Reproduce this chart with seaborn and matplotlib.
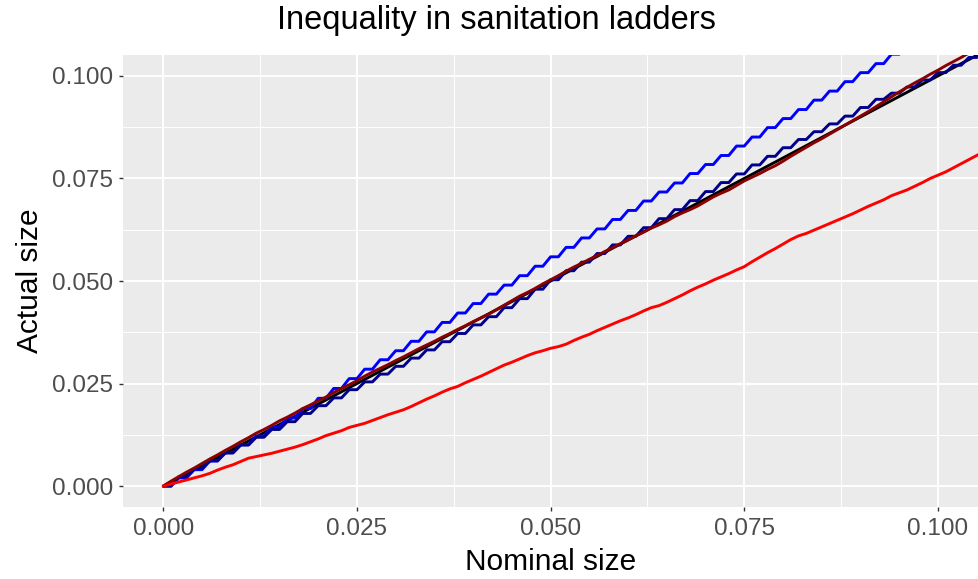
import matplotlib
matplotlib.use("Agg")
import matplotlib.pyplot as plt
import seaborn as sns
import pandas as pd
import numpy as np

# ---- data (values in thousandths) ----
nominal = [
    0, 1, 2, 3, 4, 5, 6, 7, 8, 9, 10, 11, 12, 13, 14, 15, 16, 17, 18, 19,
    20, 21, 22, 23, 24, 25, 26, 27, 28, 29, 30, 31, 32, 33, 34, 35, 36, 37, 38, 39,
    40, 41, 42, 43, 44, 45, 46, 47, 48, 49, 50, 51, 52, 53, 54, 55, 56, 57, 58, 59,
    60, 61, 62, 63, 64, 65, 66, 67, 68, 69, 70, 71, 72, 73, 74, 75, 76, 77, 78, 79,
    80, 81, 82, 83, 84, 85, 86, 87, 88, 89, 90, 91, 92, 93, 94, 95, 96, 97, 98, 99,
    100, 101, 102, 103, 104, 105, 106]

reference = list(nominal)

blue = [
    0, 0, 2.0, 2.0, 4.0, 4.0, 6.1, 6.1, 8.1, 8.1, 10.1, 10.1, 12.2, 12.2, 14.4, 14.4,
    16.6, 16.6, 18.9, 18.9, 21.4, 21.4, 23.8, 23.8, 26.2, 26.2, 28.5, 28.5, 30.8, 30.8,
    33.0, 33.0, 35.3, 35.3, 37.6, 37.6, 39.9, 39.9, 42.2, 42.2, 44.5, 44.5, 46.8, 46.8,
    49.0, 49.0, 51.3, 51.3, 53.6, 53.6, 55.9, 55.9, 58.2, 58.2, 60.5, 60.5, 62.7, 62.7,
    65.0, 65.0, 67.2, 67.2, 69.5, 69.5, 71.7, 71.7, 73.9, 73.9, 76.2, 76.2, 78.4, 78.4,
    80.6, 80.6, 82.9, 82.9, 85.1, 85.1, 87.4, 87.4, 89.6, 89.6, 91.8, 91.8, 94.1, 94.1,
    96.3, 96.3, 98.6, 98.6, 100.8, 100.8, 103.0, 103.0, 105.3, 105.3, 107.5, 107.5,
    109.8, 109.8, 112.0, 112.0, 114.2, 114.2, 116.5, 116.5, 118.7]

navy = [
    0, 0, 2.3, 2.3, 4.3, 4.3, 6.2, 6.2, 8.1, 8.1, 10.0, 10.0, 11.9, 11.9, 13.8, 13.8,
    15.7, 15.7, 17.7, 17.7, 19.6, 19.6, 21.5, 21.5, 23.5, 23.5, 25.4, 25.4, 27.3, 27.3,
    29.2, 29.2, 31.2, 31.2, 33.2, 33.2, 35.2, 35.2, 37.2, 37.2, 39.3, 39.3, 41.3, 41.3,
    43.5, 43.5, 45.7, 45.7, 48.0, 48.0, 50.3, 50.3, 52.5, 52.5, 54.6, 54.6, 56.7, 56.7,
    58.8, 58.8, 60.9, 60.9, 63.0, 63.0, 65.2, 65.2, 67.4, 67.4, 69.6, 69.6, 71.8, 71.8,
    74.0, 74.0, 76.1, 76.1, 78.3, 78.3, 80.4, 80.4, 82.5, 82.5, 84.5, 84.5, 86.4, 86.4,
    88.3, 88.3, 90.2, 90.2, 92.3, 92.3, 94.3, 94.3, 95.8, 95.8, 97.3, 97.3, 99.0, 99.0,
    100.8, 100.8, 102.6, 102.6, 104.5, 104.5, 106.5]

darkred = [
    0.0, 1.2, 2.3, 3.4, 4.4, 5.5, 6.6, 7.6, 8.7, 9.7, 10.8, 11.8, 12.9, 13.8, 14.8, 15.9,
    16.8, 17.8, 18.9, 19.8, 20.8, 21.7, 22.8, 23.8, 24.7, 25.7, 26.8, 27.8, 28.7, 29.6,
    30.6, 31.5, 32.5, 33.5, 34.4, 35.3, 36.3, 37.2, 38.2, 39.1, 40.1, 41.0, 41.9, 43.0,
    44.1, 45.2, 46.3, 47.2, 48.2, 49.3, 50.3, 51.3, 52.4, 53.4, 54.3, 55.3, 56.2, 57.2,
    58.1, 59.1, 60.0, 61.0, 61.9, 62.9, 63.7, 64.6, 65.7, 66.6, 67.4, 68.3, 69.4, 70.5,
    71.4, 72.2, 73.3, 74.4, 75.3, 76.2, 77.2, 78.1, 79.2, 80.4, 81.5, 82.6, 83.7, 84.7,
    85.8, 86.9, 88.0, 89.1, 90.2, 91.3, 92.5, 93.7, 94.9, 96.1, 97.2, 98.3, 99.3, 100.4,
    101.4, 102.5, 103.5, 104.5, 105.6, 106.6, 107.6]

red = [
    0.0, 0.5, 1.0, 1.5, 2.0, 2.5, 3.1, 3.9, 4.6, 5.2, 6.0, 6.8, 7.2, 7.6, 8.0, 8.5,
    9.0, 9.5, 10.1, 10.8, 11.5, 12.3, 12.9, 13.5, 14.3, 14.8, 15.3, 16.0, 16.7, 17.4,
    18.0, 18.6, 19.4, 20.3, 21.2, 22.0, 22.9, 23.7, 24.3, 25.2, 26.0, 26.8, 27.7, 28.6,
    29.5, 30.2, 31.0, 31.8, 32.5, 33.0, 33.6, 34.0, 34.6, 35.5, 36.3, 37.0, 37.9, 38.7,
    39.5, 40.3, 41.0, 41.8, 42.7, 43.5, 44.0, 44.8, 45.7, 46.6, 47.6, 48.5, 49.3, 50.2,
    51.0, 51.8, 52.7, 53.5, 54.7, 55.8, 56.9, 57.9, 59.0, 60.1, 61.0, 61.6, 62.4, 63.2,
    64.0, 64.8, 65.6, 66.4, 67.3, 68.2, 69.0, 69.8, 70.8, 71.5, 72.2, 73.1, 74.0, 75.0,
    75.8, 76.6, 77.6, 78.6, 79.6, 80.6, 81.6]

series_names = ["reference", "blue", "navy", "darkred", "red"]
series_values = [reference, blue, navy, darkred, red]
series_colors = {"reference": "#000000", "blue": "#0000FF", "navy": "#00008B",
                 "darkred": "#8B0000", "red": "#FF0000"}

tick_values = [0.0, 0.025, 0.05, 0.075, 0.1]
tick_labels = ["0.000", "0.025", "0.050", "0.075", "0.100"]

# ---- build long table ----
frames = []
for name, vals in zip(series_names, series_values):
    frames.append(pd.DataFrame({
        "nominal": np.array(nominal) / 1000.0,
        "actual": np.array(vals) / 1000.0,
        "series": name}))
df = pd.concat(frames, ignore_index=True)

# ---- style ----
sns.set_theme(style="darkgrid")
plt.rcParams["font.family"] = ["Liberation Sans", "DejaVu Sans"]

fig = plt.figure(figsize=(9.79, 5.79), dpi=100)
ax = fig.add_axes([123 / 979, 72 / 579, 856 / 979, 452 / 579])
ax.set_facecolor("#EBEBEB")

sns.lineplot(data=df, x="nominal", y="actual", hue="series",
             hue_order=series_names, palette=series_colors,
             estimator=None, sort=False, linewidth=2.1, legend=False, ax=ax)

ax.set_xlim(-0.0052, 0.1053)
ax.set_ylim(-0.0051, 0.1051)

ax.set_xticks(tick_values)
ax.set_xticklabels(tick_labels)
ax.set_yticks(tick_values)
ax.set_yticklabels(tick_labels)
minor = [0.0125, 0.0375, 0.0625, 0.0875]
ax.set_xticks(minor, minor=True)
ax.set_yticks(minor, minor=True)

ax.grid(which="major", color="white", linewidth=1.4)
ax.grid(which="minor", color="white", linewidth=0.7)
ax.set_axisbelow(True)
for s in ax.spines.values():
    s.set_visible(False)

ax.tick_params(axis="both", which="major", bottom=True, left=True,
               length=3.0, width=1.0, color="#333333",
               labelsize=17.5, labelcolor="#4D4D4D")
ax.tick_params(axis="x", which="major", pad=5)
ax.tick_params(axis="y", which="major", pad=4)
ax.tick_params(axis="both", which="minor", length=0)

ax.set_xlabel("Nominal size", fontsize=21.5, color="black", labelpad=6)
ax.set_ylabel("Actual size", fontsize=21.5, color="black", labelpad=6)

fig.text(496 / 979, 1 - 21 / 579, "Inequality in sanitation ladders",
         ha="center", va="center", fontsize=23.5, color="black")

fig.savefig("out.png", dpi=100)
